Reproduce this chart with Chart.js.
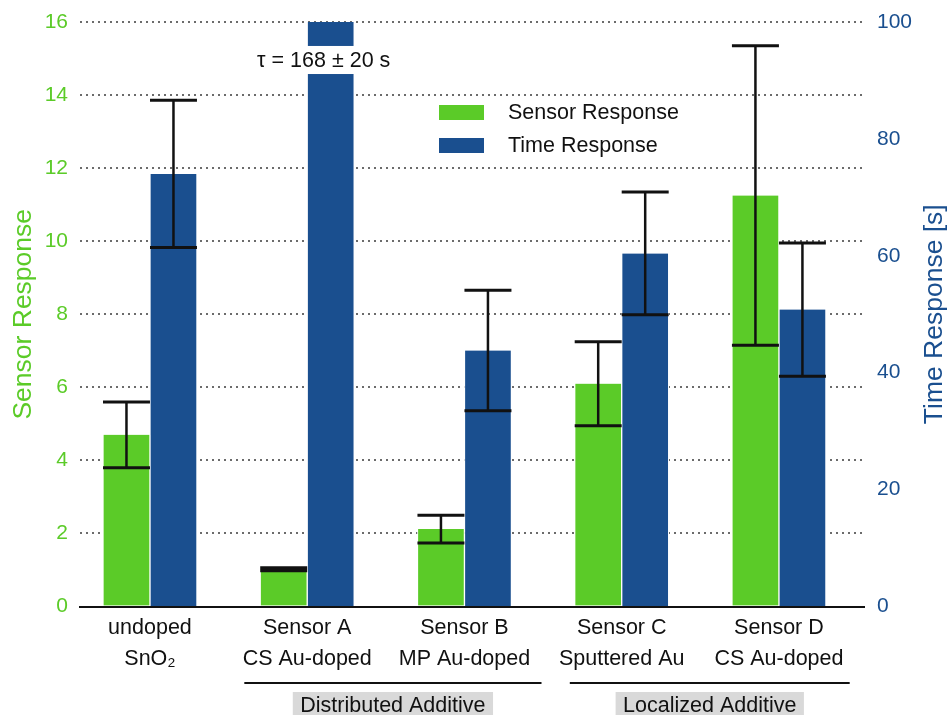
<!DOCTYPE html>
<html>
<head>
<meta charset="utf-8">
<script src="https://cdn.jsdelivr.net/npm/chart.js@4.4.1/dist/chart.umd.min.js"></script>
<style>
  html, body { margin: 0; padding: 0; background: #ffffff; }
  #wrap { width: 950px; height: 715px; }
</style>
</head>
<body>
<div id="wrap"><canvas id="chart" width="950" height="715"></canvas></div>
<script>
// Sample categories (two-line labels)
const categories = [
  ['undoped', 'SnO\u2082'],
  ['Sensor A', 'CS Au-doped'],
  ['Sensor B', 'MP Au-doped'],
  ['Sensor C', 'Sputtered Au'],
  ['Sensor D', 'CS Au-doped']
];
// Sensor response (left axis) with standard deviation
const sensorResponse = [4.7, 1.02, 2.12, 6.1, 11.25];
const sensorError    = [0.9, 0.04, 0.38, 1.15, 4.1];
// Time response in seconds (right axis) with standard deviation
const timeResponse = [74, 168, 43.8, 60.4, 50.8];
const timeError    = [12.6, 20, 10.3, 10.5, 11.4];
// Axis ranges
const sensorTicks = { min: 0, max: 16, step: 2 };
const timeTicks   = { min: 0, max: 100, step: 20 };
// Additive groups (index ranges into categories)
const groupNames = ['Distributed Additive', 'Localized Additive'];
const groupFirst = [1, 3];
const groupLast  = [2, 4];

const GREEN = '#5BCB28';
const BLUE = '#1A4F8F';
const FONT = "'Liberation Sans', Arial, Helvetica, sans-serif";
const LABEL_SIZE = 21.5;
// Underline extents around each group, in category units
const bracketLead = [0.4, 0.33];
const bracketTail = [0.49, 0.45];

// Error bars drawn on top of each bar, clipped to the plot area
const errorBars = {
  id: 'errorBars',
  afterDatasetsDraw(chart) {
    const ctx = chart.ctx, area = chart.chartArea;
    ctx.save();
    ctx.beginPath();
    ctx.rect(area.left, area.top - 1, area.right - area.left, area.bottom - area.top + 1);
    ctx.clip();
    ctx.strokeStyle = '#111';
    chart.data.datasets.forEach((ds, di) => {
      const meta = chart.getDatasetMeta(di);
      const scale = chart.scales[ds.yAxisID];
      meta.data.forEach((bar, i) => {
        const v = ds.data[i].y, e = ds.errors[i];
        const yHi = scale.getPixelForValue(v + e);
        const yLo = scale.getPixelForValue(v - e);
        const half = bar.width / 2;
        ctx.lineWidth = 2.5;
        ctx.beginPath();
        ctx.moveTo(bar.x, yHi); ctx.lineTo(bar.x, yLo);
        ctx.stroke();
        ctx.lineWidth = 3;
        ctx.beginPath();
        ctx.moveTo(bar.x - half, yHi); ctx.lineTo(bar.x + half, yHi);
        ctx.moveTo(bar.x - half, yLo); ctx.lineTo(bar.x + half, yLo);
        ctx.stroke();
      });
    });
    ctx.restore();
  }
};

// Axis break on the off-scale time bar, labelled with its value
const axisBreak = {
  id: 'axisBreak',
  afterDatasetsDraw(chart) {
    const ctx = chart.ctx;
    const tScale = chart.scales.y1;
    const idx = timeResponse.findIndex(v => v > timeTicks.max);
    if (idx < 0) return;
    const bar = chart.getDatasetMeta(1).data[idx];
    const yTop = tScale.getPixelForValue(95.9);
    const yBot = tScale.getPixelForValue(91.1);
    ctx.save();
    ctx.fillStyle = '#ffffff';
    ctx.fillRect(bar.x - bar.width / 2 - 1, yTop, bar.width + 2, yBot - yTop);
    ctx.fillStyle = '#111';
    ctx.font = LABEL_SIZE + 'px ' + FONT;
    ctx.textAlign = 'center';
    ctx.textBaseline = 'middle';
    ctx.fillText('\u03C4 = ' + timeResponse[idx] + ' \u00B1 ' + timeError[idx] + ' s', bar.x - 7, (yTop + yBot) / 2 + 1);
    ctx.restore();
  }
};

// Legend, right axis title, group brackets and group captions
const decorations = {
  id: 'decorations',
  afterDraw(chart) {
    const ctx = chart.ctx;
    const x = chart.scales.x;
    ctx.save();
    // legend
    ctx.font = LABEL_SIZE + 'px ' + FONT;
    ctx.textBaseline = 'middle';
    ctx.textAlign = 'left';
    chart.data.datasets.forEach((ds, i) => {
      const y = 105 + i * 33;
      ctx.fillStyle = ds.backgroundColor;
      ctx.fillRect(439, y, 45, 15);
      ctx.fillStyle = '#111';
      ctx.fillText(ds.label, 508, y + 8);
    });
    // right axis title
    ctx.save();
    ctx.translate(935, (chart.chartArea.top + chart.chartArea.bottom) / 2);
    ctx.rotate(-Math.PI / 2);
    ctx.textAlign = 'center';
    ctx.fillStyle = BLUE;
    ctx.font = '26.5px ' + FONT;
    ctx.fillText('Time Response [s]', 0, 0);
    ctx.restore();
    // group brackets and captions
    groupNames.forEach((name, g) => {
      const x0 = x.getPixelForValue(groupFirst[g] - bracketLead[g]);
      const x1 = x.getPixelForValue(groupLast[g] + bracketTail[g]);
      ctx.strokeStyle = '#111';
      ctx.lineWidth = 2;
      ctx.beginPath();
      ctx.moveTo(x0, 683); ctx.lineTo(x1, 683);
      ctx.stroke();
      ctx.font = LABEL_SIZE + 'px ' + FONT;
      const w = ctx.measureText(name).width + 15;
      const cx = (x0 + x1) / 2;
      ctx.fillStyle = '#D9D9D9';
      ctx.fillRect(cx - w / 2, 692, w, 26);
      ctx.fillStyle = '#111';
      ctx.textAlign = 'center';
      ctx.fillText(name, cx, 706);
    });
    ctx.restore();
  }
};

new Chart(document.getElementById('chart'), {
  type: 'bar',
  data: {
    datasets: [
      {
        label: 'Sensor Response',
        data: sensorResponse.map((v, i) => ({ x: i, y: v })),
        errors: sensorError,
        yAxisID: 'y',
        backgroundColor: GREEN,
        borderColor: '#ffffff',
        borderWidth: { left: 1, right: 1, top: 0, bottom: 0 },
        borderSkipped: 'start'
      },
      {
        label: 'Time Response',
        data: timeResponse.map((v, i) => ({ x: i, y: v })),
        errors: timeError,
        yAxisID: 'y1',
        backgroundColor: BLUE,
        borderColor: '#ffffff',
        borderWidth: { left: 1, right: 1, top: 0, bottom: 0 },
        borderSkipped: 'start'
      }
    ]
  },
  options: {
    responsive: false,
    animation: false,
    devicePixelRatio: 1,
    barThickness: 47,
    layout: { padding: { top: 22, left: 0, right: 0, bottom: 0 } },
    plugins: {
      legend: { display: false },
      tooltip: { enabled: false }
    },
    scales: {
      x: {
        type: 'linear',
        offset: false,
        min: -0.445,
        max: 4.541,
        afterBuildTicks(scale) {
          scale.ticks = categories.map((_, i) => ({ value: i }));
        },
        afterFit(scale) { scale.height = 108.5; },
        grid: { display: false, drawTicks: false },
        border: { display: true, color: '#111', width: 2 },
        ticks: {
          autoSkip: false,
          maxRotation: 0,
          padding: 6,
          color: '#111',
          font: { family: FONT, size: LABEL_SIZE, lineHeight: 1.44 },
          callback: (v) => categories[v] || ''
        }
      },
      y: {
        position: 'left',
        min: sensorTicks.min,
        max: sensorTicks.max,
        afterFit(scale) { scale.width = 80; },
        ticks: {
          stepSize: sensorTicks.step,
          padding: 2,
          color: GREEN,
          font: { family: FONT, size: 21 }
        },
        grid: {
          drawTicks: true,
          tickLength: 10,
          tickColor: 'rgba(0,0,0,0)',
          color: '#6b6b6b',
          lineWidth: 2,
          borderDash: [2, 4]
        },
        border: { display: false, dash: [2, 4] },
        title: {
          display: true,
          text: 'Sensor Response',
          color: GREEN,
          font: { family: FONT, size: 26.5 },
          padding: { top: 8, bottom: 0 }
        }
      },
      y1: {
        position: 'right',
        min: timeTicks.min,
        max: timeTicks.max,
        afterFit(scale) { scale.width = 86; },
        ticks: {
          stepSize: timeTicks.step,
          padding: 2,
          color: BLUE,
          font: { family: FONT, size: 21 }
        },
        grid: {
          display: true,
          drawOnChartArea: false,
          drawTicks: true,
          tickLength: 11,
          tickColor: 'rgba(0,0,0,0)'
        },
        border: { display: false }
      }
    }
  },
  plugins: [errorBars, axisBreak, decorations]
});
</script>
</body>
</html>
